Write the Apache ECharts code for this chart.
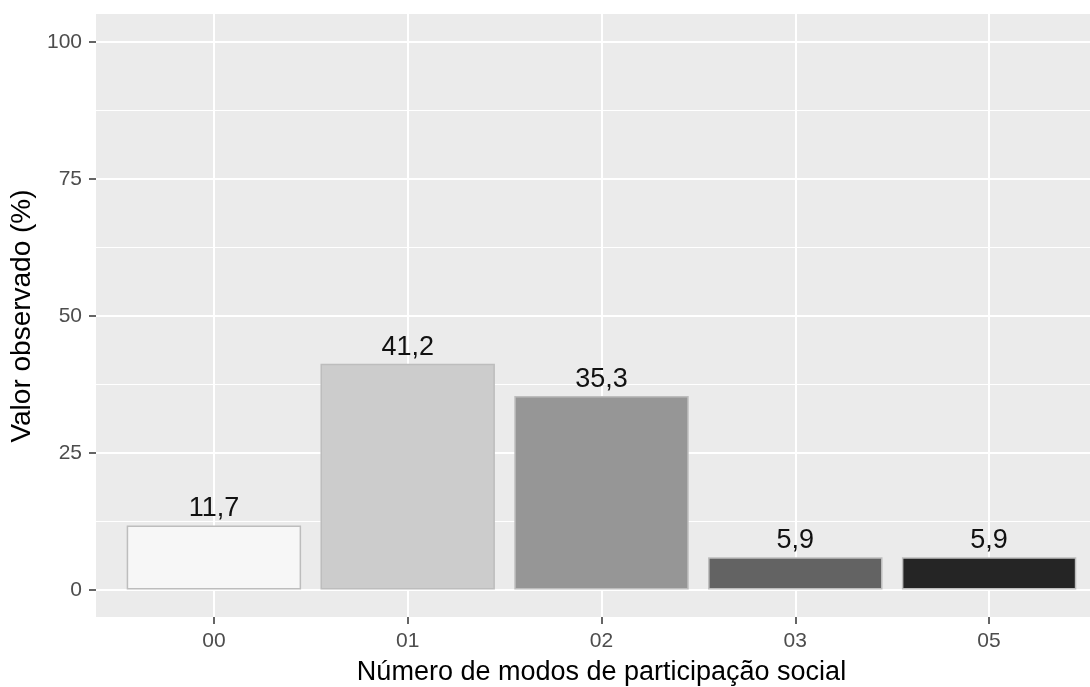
<!DOCTYPE html>
<html>
<head>
<meta charset="utf-8">
<script src="https://cdn.jsdelivr.net/npm/echarts@6/dist/echarts.min.js"></script>
<style>
  html, body { margin: 0; padding: 0; background: #fff; }
  #main { width: 1090px; height: 687px; }
</style>
</head>
<body>
<div id="main"></div>
<script>
// dados do gráfico
var categorias = ['00', '01', '02', '03', '05'];
var valores = [11.7, 41.2, 35.3, 5.9, 5.9];
var cores = ['#F7F7F7', '#CCCCCC', '#969696', '#636363', '#252525'];
var ticksY = [0, 25, 50, 75, 100];

var fonte = 'Liberation Sans, Arial, sans-serif';
var myChart = echarts.init(document.getElementById('main'), null, { renderer: 'canvas' });

var option = {
  backgroundColor: '#ffffff',
  animation: false,
  grid: [
    // 0: fundo do painel
    { left: 96, right: 0, top: 14, bottom: 70, show: true, backgroundColor: '#EBEBEB', borderWidth: 0, outerBoundsMode: 'none' },
    // 1: linhas horizontais + eixo y
    { left: 96, right: 0, top: 42, bottom: 97, outerBoundsMode: 'none' },
    // 2: linhas verticais + marcas e rótulos do eixo x
    { left: 214, right: 101, top: 14, bottom: 70, outerBoundsMode: 'none' },
    // 3: barras (altura do painel inteiro, y de -5 a 105)
    { left: 117, right: 4, top: 14, bottom: 70, outerBoundsMode: 'none' }
  ],
  xAxis: [
    { gridIndex: 0, type: 'value', show: false },
    { gridIndex: 1, type: 'value', show: false },
    {
      gridIndex: 2, type: 'category', data: categorias, boundaryGap: false, position: 'bottom',
      axisLine: { show: true, onZero: false, lineStyle: { color: 'rgba(0,0,0,0)' } },
      axisTick: { show: true, length: 7, lineStyle: { color: '#333333', width: 1.5 } },
      axisLabel: { color: '#4D4D4D', fontSize: 21, fontFamily: fonte, margin: 14 },
      splitLine: { show: true, lineStyle: { color: '#ffffff', width: 2 } },
      name: 'Número de modos de participação social',
      nameLocation: 'middle', nameGap: 42,
      nameTextStyle: { color: '#000000', fontSize: 27, fontFamily: fonte }
    },
    {
      gridIndex: 3, type: 'category', data: categorias,
      axisLine: { show: false }, axisTick: { show: false }, axisLabel: { show: false }
    }
  ],
  yAxis: [
    { gridIndex: 0, type: 'value', show: false },
    {
      gridIndex: 1, type: 'value', min: 0, max: 100, interval: 25,
      axisLine: { show: false },
      axisTick: { show: true, length: 7, lineStyle: { color: '#333333', width: 1.5 } },
      axisLabel: {
        color: '#4D4D4D', fontSize: 21, fontFamily: fonte, margin: 14,
        formatter: function (v) { return ticksY.indexOf(v) >= 0 ? String(v) : ''; }
      },
      splitLine: { show: true, lineStyle: { color: '#ffffff', width: 2 } },
      minorTick: { show: false, splitNumber: 2 },
      minorSplitLine: { show: true, lineStyle: { color: '#ffffff', width: 1 } },
      name: 'Valor observado (%)',
      nameLocation: 'middle', nameGap: 53,
      nameTextStyle: { color: '#000000', fontSize: 28, fontFamily: fonte }
    },
    { gridIndex: 2, type: 'value', show: false },
    { gridIndex: 3, type: 'value', min: -5, max: 105, show: false }
  ],
  series: [
    {
      type: 'bar',
      xAxisIndex: 3, yAxisIndex: 3,
      barWidth: '90%',
      data: valores.map(function (v, i) {
        return { value: v, itemStyle: { color: cores[i] } };
      }),
      itemStyle: { borderColor: '#BDBDBD', borderWidth: 1.5 },
      label: {
        show: true, position: 'top', distance: 3,
        color: '#111111', fontSize: 27, fontFamily: fonte,
        formatter: function (p) { return p.value.toFixed(1).replace('.', ','); }
      }
    }
  ]
};

myChart.setOption(option);
</script>
</body>
</html>
